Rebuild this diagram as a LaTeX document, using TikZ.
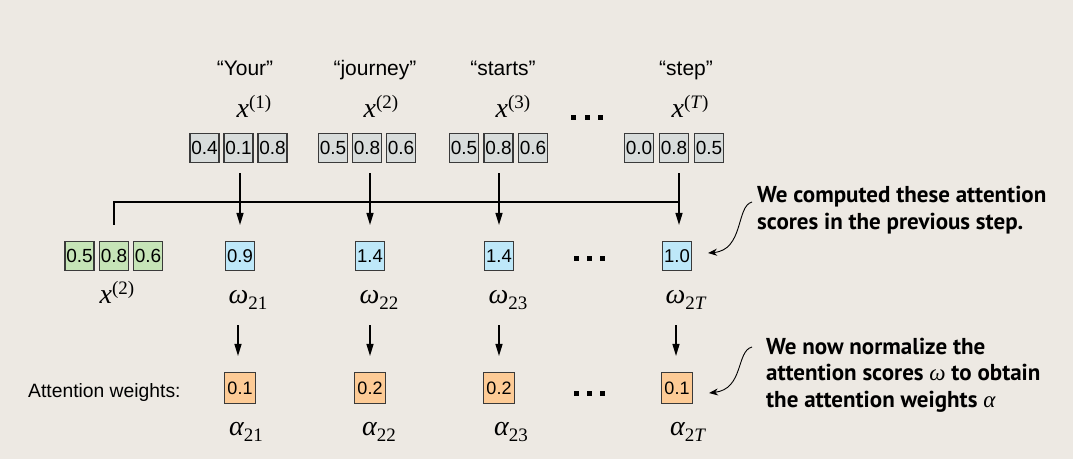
\documentclass[tikz,border=0pt]{standalone}
\usepackage{fontspec}
\setmainfont{Liberation Sans}
\newfontfamily\mfont{Liberation Serif}
\newfontfamily\afont{PT Sans}
\usetikzlibrary{arrows.meta}
\definecolor{bg}{HTML}{EDE9E3}
\definecolor{cgray}{HTML}{D8DCDB}
\definecolor{cgreen}{HTML}{C6E4B7}
\definecolor{cblue}{HTML}{BEE8F9}
\definecolor{corange}{HTML}{FDCB96}
\definecolor{edge}{HTML}{3A3A3A}
\newcommand\msup[2]{{\mfont\fontsize{28}{28}\selectfont\itshape #1}\raisebox{9pt}{\mfont\fontsize{19}{19}\selectfont #2}}
\newcommand\msub[2]{{\mfont\fontsize{28}{28}\selectfont\itshape #1}\raisebox{-6pt}{\mfont\fontsize{19}{19}\selectfont #2}}
\begin{document}
\begin{tikzpicture}[x=1pt,y=-1pt,
  cell/.style={draw=edge, line width=1.1pt, minimum width=29pt, minimum height=29pt, inner sep=0pt, font=\fontsize{19}{19}\selectfont},
  gcell/.style={cell, fill=cgray},
  grcell/.style={cell, fill=cgreen},
  bcell/.style={cell, fill=cblue, font=\fontsize{18.5}{18.5}\selectfont},
  ocell/.style={cell, fill=corange, minimum width=31pt, minimum height=31pt, font=\fontsize{18}{18}\selectfont},
  word/.style={anchor=base, inner sep=0pt, font=\fontsize{21}{21}\selectfont},
  sym/.style={anchor=base, inner sep=0pt},
  dotsq/.style={fill=black, minimum size=5pt, inner sep=0pt},
  arr/.style={line width=1.3pt, -{Triangle[length=12pt,width=7pt]}},
  line/.style={line width=1.3pt},
  carr/.style={line width=0.9pt, -{Stealth[length=9pt,width=7pt]}},
  anno/.style={anchor=base west, inner sep=0pt, align=left, font=\afont\bfseries\fontsize{23}{26.5}\selectfont}
]
\fill[bg] (0,0) rectangle (1073,459);
\useasboundingbox (0,0) rectangle (1073,459);

% words
\node[word] (w1) at (245,75) {“Your”};
\node[word] (w2) at (375,75) {“journey”};
\node[word] (w3) at (503,75) {“starts”};
\node[word] (w4) at (686,75) {“step”};

% input symbols
\node[sym] (x1) at (254,117) {\msup{x}{(1)}};
\node[sym] (x2) at (381,117) {\msup{x}{(2)}};
\node[sym] (x3) at (513,117) {\msup{x}{(3)}};
\node[sym] (xT) at (690,117) {\msup{x}{(\textit{T})}};
\node[dotsq] (td1) at (573,117) {};
\node[dotsq] (td2) at (587,117) {};
\node[dotsq] (td3) at (600,117) {};

% input vectors
\node[gcell] (b11) at (204.5,148) {0.4};
\node[gcell] (b12) at (238.5,148) {0.1};
\node[gcell] (b13) at (272.5,148) {0.8};
\node[gcell] (b21) at (333,148) {0.5};
\node[gcell] (b22) at (367,148) {0.8};
\node[gcell] (b23) at (401,148) {0.6};
\node[gcell] (b31) at (464,148) {0.5};
\node[gcell] (b32) at (498.5,148) {0.8};
\node[gcell] (b33) at (533,148) {0.6};
\node[gcell] (b41) at (639,148) {0.0};
\node[gcell] (b42) at (674,148) {0.8};
\node[gcell] (b43) at (709,148) {0.5};

% query vector
\node[grcell] (g1) at (79.5,256) {0.5};
\node[grcell] (g2) at (114,256) {0.8};
\node[grcell] (g3) at (148,256) {0.6};
\node[sym] (xq) at (117,303) {\msup{x}{(2)}};

% scores
\node[bcell] (o21) at (240,256) {0.9};
\node[bcell] (o22) at (370,256) {1.4};
\node[bcell] (o23) at (499,256) {1.4};
\node[bcell] (o2T) at (677,256) {1.0};
\node[dotsq] (md1) at (576,258) {};
\node[dotsq] (md2) at (589,258) {};
\node[dotsq] (md3) at (602,258) {};
\node[sym] (l21) at (248,303) {\msub{ω}{21}};
\node[sym] (l22) at (379,303) {\msub{ω}{22}};
\node[sym] (l23) at (508,303) {\msub{ω}{23}};
\node[sym] (l2T) at (686,303) {\msub{ω}{2\textit{T}}};

% weights
\node[anchor=base west, inner sep=0pt, font=\fontsize{19.3}{19.3}\selectfont] (aw) at (28,397) {Attention weights:};
\node[ocell] (a21) at (240,388) {0.1};
\node[ocell] (a22) at (370,388) {0.2};
\node[ocell] (a23) at (499,388) {0.2};
\node[ocell] (a2T) at (677,388) {0.1};
\node[dotsq] (bd1) at (576,393) {};
\node[dotsq] (bd2) at (589,393) {};
\node[dotsq] (bd3) at (602,393) {};
\node[sym] (m21) at (246,435) {\msub{α}{21}};
\node[sym] (m22) at (379,435) {\msub{α}{22}};
\node[sym] (m23) at (511,435) {\msub{α}{23}};
\node[sym] (m2T) at (688,435) {\msub{α}{2\textit{T}}};

% bracket line
\coordinate (hl) at (114,202);
\coordinate (hr) at (679,202);
\draw[line] (hr) -- (hl) -- ([yshift=16pt]g2.north);

% top arrows
\draw[arr] ([yshift=-10pt]b12.south -| o21.north) -- ([yshift=16pt]o21.north);
\draw[arr] ([yshift=-10pt]b22.south -| o22.north) -- ([yshift=16pt]o22.north);
\draw[arr] ([yshift=-10pt]b32.south -| o23.north) -- ([yshift=16pt]o23.north);
\draw[arr] ([yshift=-10pt,xshift=2pt]b42.south -| o2T.north) -- ([yshift=16pt,xshift=2pt]o2T.north);

% bottom arrows
\draw[arr] ([yshift=-54pt,xshift=-2pt]o21.south) -- ([yshift=16pt,xshift=-2pt]a21.north);
\draw[arr] ([yshift=-54pt]o22.south) -- ([yshift=16pt]a22.north);
\draw[arr] ([yshift=-54pt]o23.south) -- ([yshift=16pt]a23.north);
\draw[arr] ([yshift=-54pt,xshift=-1pt]o2T.south) -- ([yshift=16pt,xshift=-1pt]a2T.north);

% annotations (base = baseline of last line)
\node[anno] (n1) at (757,229) {We computed these attention\\scores in the previous step.};
\node[anno] (n2) at (766,407) {We now normalize the\\attention scores {\mfont\mdseries\itshape ω} to obtain\\the attention weights {\mfont\mdseries\itshape α}};

\coordinate (c1s) at (752,202);
\coordinate (c1e) at ([xshift=16pt,yshift=3pt]o2T.east);
\draw[carr] (c1s) .. controls (736,206) and (744,250) .. (c1e);
\coordinate (c2s) at (752,347);
\coordinate (c2e) at ([xshift=16pt,yshift=-5pt]a2T.east);
\draw[carr] (c2s) .. controls (736,351) and (744,389) .. (c2e);
\end{tikzpicture}
\end{document}
